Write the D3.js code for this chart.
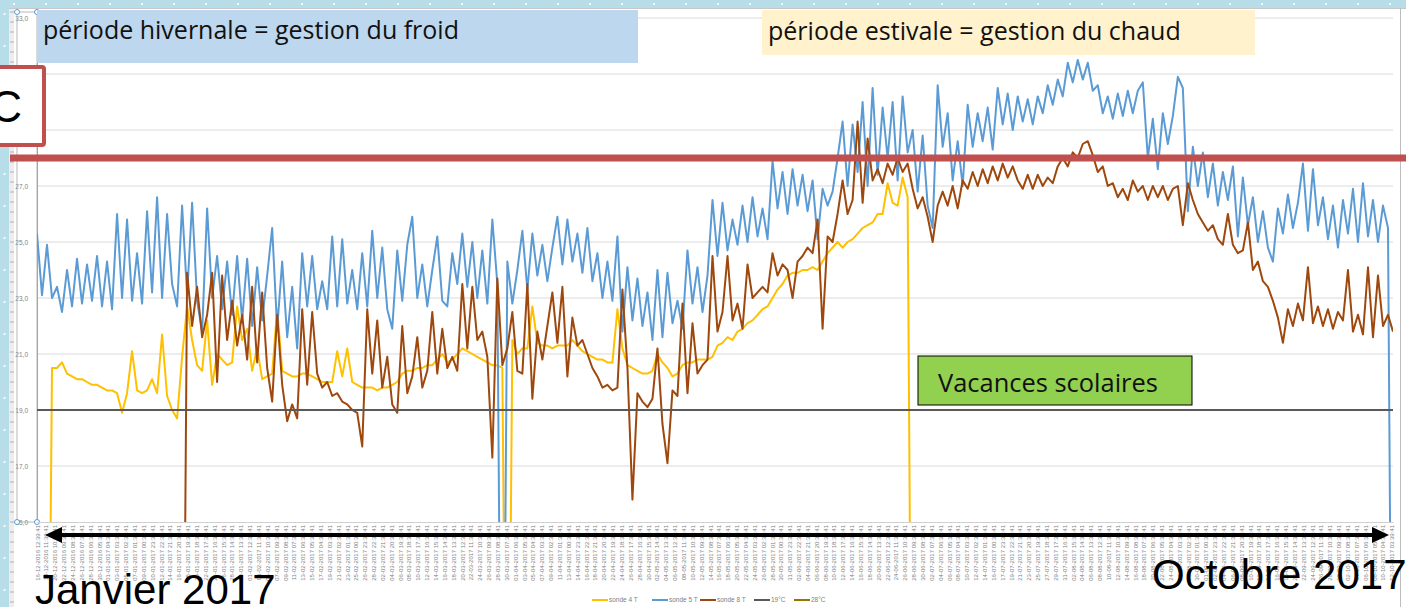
<!DOCTYPE html>
<html>
<head>
<meta charset="utf-8">
<script src="https://cdn.jsdelivr.net/npm/d3@7"></script>
<style>
  body { margin: 0; background: #fff; overflow: hidden; }
  svg { display: block; }
</style>
</head>
<body>
<script>
// data, one value every ~5 px along the time axis
const seriesNames = ["sonde 4 T", "sonde 5 T", "sonde 8 T", "19°C", "28°C"];
const seriesColors = ["#FFC000", "#5B9BD5", "#9E480E", "#595959", "#997300"];

const sonde4 = [
  null,null,0,20.5,20.5,20.7,20.3,20.2,20.1,20.1,
  20.0,19.9,19.9,19.8,19.7,19.7,19.6,18.9,19.6,21.1,
  19.7,19.6,19.7,20.1,19.6,21.7,19.5,19.0,18.7,20.9,
  22.7,21.5,20.6,20.4,22.2,19.9,21.0,20.8,20.6,20.7,
  22.7,21.5,21.9,20.4,21.2,20.1,20.2,20.3,22.6,20.4,
  20.3,20.2,20.2,20.3,20.3,20.2,20.1,20.0,20.0,20.0,
  21.1,20.2,21.2,20.0,19.9,19.8,19.8,19.8,19.7,19.8,
  19.8,19.9,20.0,20.3,20.4,20.4,20.5,20.5,20.6,20.6,
  20.8,21.0,20.7,20.8,21.0,21.2,21.1,21.0,20.9,20.8,
  20.7,20.6,20.6,20.5,0,21.5,21.0,21.2,21.2,22.7,
  21.4,21.3,21.3,21.2,21.3,21.3,21.3,21.5,21.3,21.1,
  21.0,20.9,20.8,20.8,20.7,20.7,22.6,21.2,20.6,20.5,
  20.4,20.3,20.3,20.4,21.0,20.7,20.5,20.2,20.3,20.6,
  20.7,20.7,20.8,20.8,20.8,20.9,21.3,21.4,21.6,21.5,
  21.8,21.9,22.1,22.2,22.4,22.6,22.7,23.0,23.3,23.5,
  23.8,23.9,23.9,24.0,24.0,24.1,24.0,24.3,24.6,24.8,
  25.0,24.8,25.0,25.1,25.3,25.5,25.6,25.7,26.0,26.0,
  27.1,26.4,26.3,27.3,26.6,0,null,null,null,null,
  null,null,null,null,null,null,null,null,null,null,
  null,null,null,null,null,null,null,null,null,null,
  null,null,null,null,null,null,null,null,null,null,
  null,null,null,null,null,null,null,null,null,null,
  null,null,null,null,null,null,null,null,null,null,
  null,null,null,null,null,null,null,null,null,null,
  null,null,null,null,null,null,null,null,null,null,
  null,null,null,null,null,null,null,null,null,null,
  null,null,null,null,null,null,null,null,null,null,
  null,null
];

const sonde5 = [
  25.3,23.1,24.9,23.0,23.4,22.5,24.0,22.7,24.4,22.8,
  24.2,22.9,24.5,22.7,24.3,22.6,26.0,23.0,25.8,22.9,
  24.6,22.8,26.1,23.2,26.6,23.0,26.0,23.5,22.7,26.3,
  23.1,26.4,22.9,21.8,26.2,23.0,24.5,22.6,24.3,22.4,
  24.5,22.2,24.4,22.0,24.1,22.2,23.8,25.5,21.9,24.3,
  21.6,23.4,21.2,24.6,22.7,24.5,22.6,23.6,22.6,25.2,
  22.7,25.1,22.8,24.0,22.6,24.6,22.7,25.4,23.0,24.8,
  22.6,21.9,24.7,22.9,24.9,25.9,23.0,24.2,22.7,24.0,
  25.2,22.9,22.7,24.6,23.5,25.3,23.4,25.0,23.0,24.7,
  22.8,25.8,23.5,0,24.3,22.8,24.0,25.4,23.3,25.3,
  23.8,24.9,23.6,24.8,25.9,24.2,25.8,24.3,25.3,23.9,
  25.5,23.6,24.6,23.0,24.3,22.9,25.2,21.8,24.1,22.2,
  23.7,22.0,23.2,21.5,24.0,21.6,23.9,22.1,22.9,21.9,
  24.7,22.8,24.1,22.5,23.8,26.5,24.5,26.4,24.7,25.8,
  24.9,26.3,25.0,26.6,25.2,26.2,25.1,27.9,26.2,27.5,
  26.0,27.6,26.3,27.4,26.1,27.2,25.1,26.9,26.3,26.8,
  28.0,29.3,27.0,29.2,27.5,30.0,27.0,30.5,27.4,29.8,
  28.0,30.0,27.2,30.2,28.2,29.0,26.8,28.8,26.3,25.5,
  30.6,28.4,29.6,27.2,28.6,27.0,29.9,28.4,29.6,28.6,
  29.8,28.3,30.5,29.2,30.3,29.0,30.2,29.3,30.1,29.2,
  30.2,29.6,30.6,29.9,30.8,30.2,31.4,30.7,31.5,30.8,
  31.4,30.4,30.6,29.6,30.2,29.4,30.3,29.5,30.4,29.6,
  30.4,30.7,28.0,29.4,27.6,29.6,28.5,29.5,30.9,30.5,
  26.1,28.4,27.0,28.2,26.6,27.8,26.3,27.5,26.5,27.7,
  25.2,27.3,25.6,26.6,25.0,26.1,24.8,24.3,26.2,25.3,
  26.7,25.5,26.4,27.8,25.4,27.6,25.6,26.6,25.1,26.3,
  24.8,26.5,25.3,26.9,25.0,27.1,25.2,26.5,25.0,26.3,
  25.5,0
];

const sonde8 = [
  null,null,null,null,null,null,null,null,null,null,
  null,null,null,null,null,null,null,null,null,null,
  null,null,null,null,null,null,null,null,null,0,
  23.9,22.0,23.4,21.6,22.4,23.9,20.0,23.8,21.5,22.9,
  21.3,22.4,20.8,23.4,20.7,23.2,20.5,19.3,22.4,19.9,
  18.6,19.2,18.7,22.6,19.9,22.5,20.3,19.8,20.0,19.5,
  19.6,19.3,19.2,19.0,18.9,17.7,22.6,20.3,22.2,19.8,
  20.9,19.2,18.9,22.0,19.6,20.2,21.6,19.8,20.4,22.5,
  20.3,21.9,20.5,20.9,20.4,23.5,21.2,23.4,21.5,21.8,
  20.9,17.3,23.7,20.6,21.2,22.5,20.4,20.3,23.5,19.4,
  21.8,20.8,22.0,23.2,21.4,23.4,20.2,22.3,21.3,21.5,
  21.0,20.5,20.2,19.8,19.9,19.7,19.8,23.3,20.5,15.8,
  19.6,19.3,19.1,19.4,21.2,18.5,17.1,19.7,19.5,22.8,
  19.6,22.1,20.3,20.6,20.8,24.5,21.8,22.5,24.5,22.2,
  22.8,21.9,24.2,23.0,23.2,23.4,23.2,24.6,23.8,24.2,
  24.0,23.0,24.3,24.5,24.8,24.6,25.8,21.9,25.2,25.0,
  26.0,27.2,26.0,26.5,29.3,26.4,28.7,27.2,27.6,27.1,
  27.8,27.4,28.0,27.5,27.8,26.9,26.2,26.6,25.9,25.0,
  26.3,26.8,26.3,27.0,26.2,27.2,26.9,27.5,27.0,27.6,
  27.1,27.7,27.2,27.8,27.3,27.7,27.2,26.9,27.4,26.9,
  27.4,27.0,27.3,27.1,27.7,28.0,27.7,28.2,28.0,28.5,
  28.6,28.1,27.5,27.7,27.0,27.1,26.6,26.9,26.5,27.2,
  26.8,27.0,26.5,27.0,26.6,27.0,26.5,26.9,27.0,25.6,
  27.1,26.5,26.0,25.7,25.4,25.6,25.1,24.9,26.0,24.9,
  24.6,24.7,25.7,24.0,24.3,23.6,23.4,22.9,22.3,21.4,
  22.6,22.0,22.8,22.2,24.1,22.1,22.7,22.0,22.6,21.9,
  22.5,22.2,24.0,21.8,22.4,21.7,24.1,21.6,23.8,22.0,
  22.4,21.8
];

const seuilFroid = 19;
const seuilChaud = 28;
const yTicks = [15, 17, 19, 21, 23, 25, 27, 29, 31, 33];
const startDate = new Date(2016, 11, 16, 12, 39, 41);
const endDate = new Date(2017, 9, 12, 10, 40, 9);
const tickStepHours = 47;

const W = 1406, H = 607;
const margin = {top: 18, right: 13, bottom: 85, left: 37};
const width = W - margin.left - margin.right;
const height = H - margin.top - margin.bottom;

const svg = d3.select("body").append("svg")
  .attr("width", W)
  .attr("height", H)
  .style("font-family", "'Liberation Sans', Arial, sans-serif");

// excel-like frame around the sheet
svg.append("rect").attr("x", 0).attr("y", 0).attr("width", W).attr("height", 8).attr("fill", "#B7DDE8");
svg.append("rect").attr("x", 0).attr("y", 0).attr("width", 9).attr("height", H).attr("fill", "#B7DDE8");
svg.selectAll(".dotTop").data(d3.range(14, W, 32)).enter().append("circle")
  .attr("cx", d => d).attr("cy", 4).attr("r", 1.1).attr("fill", "#fff");
svg.selectAll(".dotLeft").data(d3.range(14, H, 32)).enter().append("circle")
  .attr("cx", 4.5).attr("cy", d => d).attr("r", 1.1).attr("fill", "#fff");
svg.append("rect").attr("x", 9).attr("y", 8).attr("width", 5).attr("height", H - 8).attr("fill", "#EDEDED");
svg.selectAll(".ruler").data(d3.range(12, H, 10)).enter().append("line")
  .attr("x1", 10).attr("x2", 14).attr("y1", d => d).attr("y2", d => d)
  .attr("stroke", "#9a9a9a").attr("stroke-width", 0.7);
svg.append("line").attr("x1", 9).attr("x2", W).attr("y1", 8.5).attr("y2", 8.5).attr("stroke", "#C8C8C8");
svg.append("line").attr("x1", 1400.5).attr("x2", 1400.5).attr("y1", 8).attr("y2", H).attr("stroke", "#BDBDBD");

const g = svg.append("g").attr("transform", "translate(" + margin.left + "," + margin.top + ")");

const y = d3.scaleLinear().domain([15, 33]).range([height, 0]);
const xTime = d3.scaleTime().domain([startDate, endDate]).range([0, width]);
const xIdx = d3.scaleLinear().domain([0, sonde5.length - 1]).range([0, width]);

// grid
g.selectAll(".grid").data(yTicks.slice(1)).enter().append("line")
  .attr("x1", 0).attr("x2", width)
  .attr("y1", d => y(d)).attr("y2", d => y(d))
  .attr("stroke", "#D9D9D9").attr("stroke-width", 1);

// y axis (selected in the sheet)
const yAxis = g.append("g")
  .call(d3.axisLeft(y).tickValues(yTicks).tickSize(0).tickPadding(9)
    .tickFormat(d => d3.format(".1f")(d).replace(".", ",")));
yAxis.select(".domain").attr("stroke", "#A6A6A6");
yAxis.selectAll("text").attr("fill", "#7F7F7F").style("font-size", "6.5px");
g.append("rect").attr("x", -20).attr("y", -6).attr("width", 20).attr("height", height + 6)
  .attr("fill", "none").attr("stroke", "#A6A6A6").attr("stroke-width", 0.8);
[[-20, -6], [0, -6], [-20, height], [0, height]].forEach(p => {
  g.append("circle").attr("cx", p[0]).attr("cy", p[1]).attr("r", 2.5)
    .attr("fill", "#fff").attr("stroke", "#5B9BD5").attr("stroke-width", 1);
});

// x axis with the time stamps
const tickDates = d3.range(0, Math.floor((endDate - startDate) / 3600000 / tickStepHours) + 1)
  .map(k => d3.timeHour.offset(startDate, k * tickStepHours));
const xAxis = g.append("g")
  .attr("transform", "translate(0," + height + ")")
  .call(d3.axisBottom(xTime).tickValues(tickDates).tickSize(0)
    .tickFormat(d3.timeFormat("%d-%m-%Y %H:%M:%S")));
xAxis.select(".domain").attr("stroke", "#D0D0D0");
xAxis.selectAll("text")
  .attr("transform", "rotate(-90)")
  .attr("x", -3).attr("y", 0).attr("dy", "0.35em")
  .style("text-anchor", "end")
  .style("font-size", "6px")
  .attr("fill", "#808080");

// series
g.append("clipPath").attr("id", "plotClip")
  .append("rect").attr("x", 0).attr("y", 0).attr("width", width).attr("height", height);

const line = d3.line()
  .defined(d => d !== null)
  .x((d, i) => xIdx(i))
  .y(d => y(d));

const plot = g.append("g").attr("clip-path", "url(#plotClip)");
[sonde4, sonde5, sonde8].forEach((s, k) => {
  plot.append("path")
    .datum(s)
    .attr("fill", "none")
    .attr("stroke", seriesColors[k])
    .attr("stroke-width", 2)
    .attr("stroke-linejoin", "round")
    .attr("d", line);
});
[seuilFroid, seuilChaud].forEach((v, k) => {
  plot.append("line")
    .attr("x1", 0).attr("x2", width)
    .attr("y1", y(v)).attr("y2", y(v))
    .attr("stroke", seriesColors[3 + k]).attr("stroke-width", 2);
});

// legend
const legendX = [592, 652, 700, 754, 794];
const legend = svg.append("g").attr("transform", "translate(0,600)");
seriesNames.forEach((n, k) => {
  legend.append("line").attr("x1", legendX[k]).attr("x2", legendX[k] + 16)
    .attr("y1", 0).attr("y2", 0).attr("stroke", seriesColors[k]).attr("stroke-width", 2);
  legend.append("text").attr("x", legendX[k] + 17).attr("y", 2.2)
    .text(n).style("font-size", "6.5px").attr("fill", "#808080");
});

// annotations drawn on top of the chart
// font size is fitted so each label spans the width it has in the picture
function fitText(sel, targetWidth) {
  const base = 20;
  sel.style("font-size", base + "px");
  const w = sel.node().getComputedTextLength();
  sel.style("font-size", (base * targetWidth / w).toFixed(2) + "px");
}

const note = svg.append("g").style("font-family", "'Open Sans', Lato, sans-serif");
note.append("rect").attr("x", 37).attr("y", 10).attr("width", 601).attr("height", 53).attr("fill", "#BDD7EE");
note.append("text").attr("x", 43).attr("y", 39).text("période hivernale = gestion du froid")
  .attr("fill", "#111").call(fitText, 416);
note.append("rect").attr("x", 762).attr("y", 10).attr("width", 493).attr("height", 45).attr("fill", "#FFF2CC");
note.append("text").attr("x", 768).attr("y", 40).text("période estivale = gestion du chaud")
  .attr("fill", "#111").call(fitText, 413);

note.append("rect").attr("x", -10).attr("y", 67).attr("width", 54).attr("height", 78).attr("rx", 2)
  .attr("fill", "#fff").attr("stroke", "#C0504D").attr("stroke-width", 4);
note.append("text").attr("x", 22).attr("y", 122).attr("text-anchor", "end").text("°C")
  .style("font-family", "'Liberation Sans', Arial, sans-serif").style("font-size", "44px").attr("fill", "#000");

svg.append("line")
  .attr("x1", 10).attr("x2", W)
  .attr("y1", margin.top + y(seuilChaud)).attr("y2", margin.top + y(seuilChaud))
  .attr("stroke", "#C0504D").attr("stroke-width", 7);

note.append("rect").attr("x", 918).attr("y", 356).attr("width", 274).attr("height", 49)
  .attr("fill", "#92D050").attr("stroke", "#000").attr("stroke-width", 1);
note.append("text").attr("x", 938).attr("y", 392).text("Vacances scolaires")
  .attr("fill", "#111").call(fitText, 220);

// double arrow under the axis
const ax0 = margin.left + xTime(startDate) + 8, ax1 = margin.left + xTime(endDate) - 4, ay = 535;
svg.append("line").attr("x1", ax0 + 14).attr("x2", ax1 - 14).attr("y1", ay).attr("y2", ay)
  .attr("stroke", "#000").attr("stroke-width", 4);
svg.append("path").attr("d", d3.line()([[ax0, ay], [ax0 + 17, ay - 8], [ax0 + 17, ay + 8]]) + "Z").attr("fill", "#000");
svg.append("path").attr("d", d3.line()([[ax1, ay], [ax1 - 17, ay - 8], [ax1 - 17, ay + 8]]) + "Z").attr("fill", "#000");

svg.append("text").attr("x", 35).attr("y", 604).text("Janvier 2017")
  .style("font-size", "42px").attr("fill", "#000");
svg.append("text").attr("x", 1152).attr("y", 589).text("Octobre 2017")
  .style("font-size", "42px").attr("fill", "#000");
</script>
</body>
</html>
